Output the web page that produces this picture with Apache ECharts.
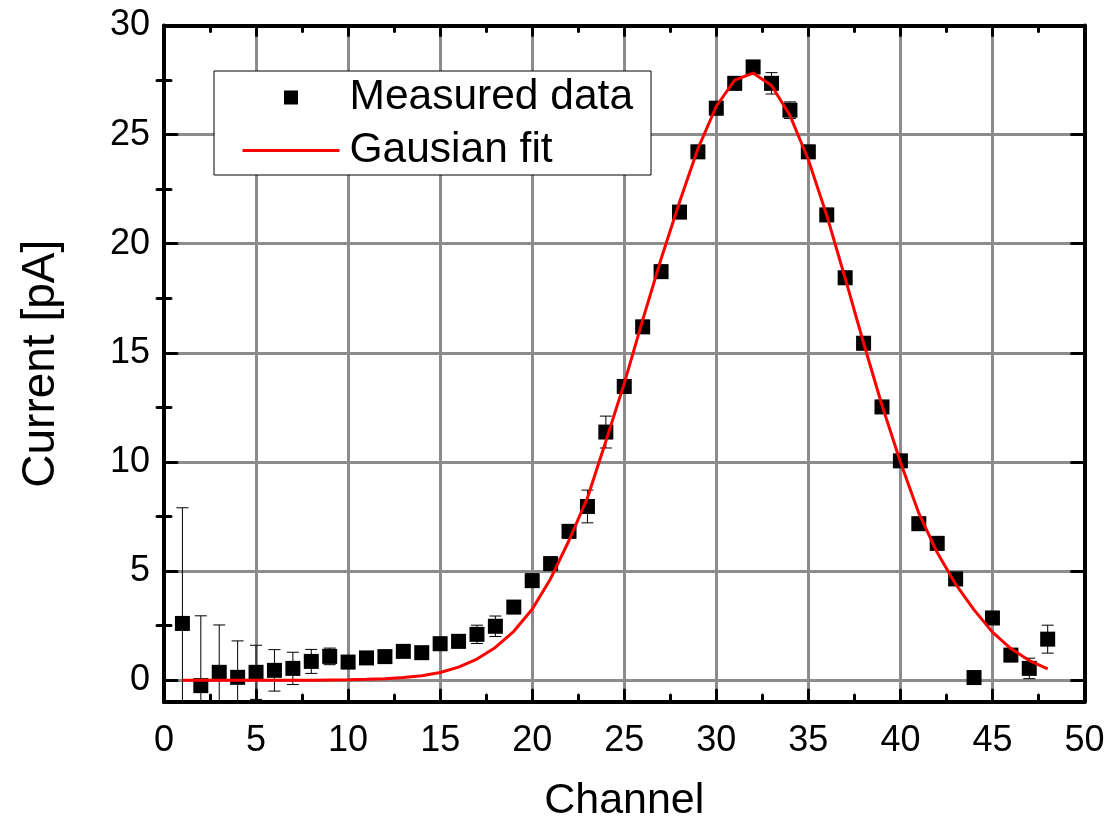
<!DOCTYPE html>
<html>
<head>
<meta charset="utf-8">
<script src="https://cdn.jsdelivr.net/npm/echarts@6/dist/echarts.min.js"></script>
<style>
  html, body { margin: 0; padding: 0; background: #fff; }
  #chart { width: 1119px; height: 822px; }
</style>
</head>
<body>
<div id="chart"></div>
<script>
// Measured beam current per channel, with its uncertainty, and the Gaussian fit.
const channels = [1, 2, 3, 4, 5, 6, 7, 8, 9, 10, 11, 12, 13, 14, 15, 16, 17, 18, 19, 20, 21, 22, 23, 24,
                  25, 26, 27, 28, 29, 30, 31, 32, 33, 34, 35, 36, 37, 38, 39, 40, 41, 42, 43, 44, 45, 46, 47, 48];
const current = [2.6, -0.25, 0.36, 0.13, 0.36, 0.45, 0.54, 0.86, 1.09, 0.83, 1.02, 1.08, 1.32, 1.26, 1.67, 1.78,
                 2.1, 2.47, 3.35, 4.56, 5.34, 6.82, 7.96, 11.37, 13.46, 16.19, 18.72, 21.45, 24.21, 26.21, 27.35, 28.1,
                 27.35, 26.12, 24.21, 21.32, 18.44, 15.44, 12.52, 10.05, 7.17, 6.27, 4.64, 0.12, 2.85, 1.15, 0.54, 1.88];
const currentErr = [5.3, 3.2, 2.17, 1.67, 1.24, 0.95, 0.74, 0.55, 0.38, 0.3, 0.25, 0.25, 0.25, 0.25, 0.3, 0.3,
                    0.42, 0.47, 0.3, 0.3, 0.3, 0.3, 0.75, 0.73, 0.3, 0.3, 0.3, 0.3, 0.3, 0.3, 0.3, 0.3,
                    0.49, 0.38, 0.3, 0.3, 0.3, 0.3, 0.3, 0.3, 0.3, 0.3, 0.3, 0.3, 0.3, 0.3, 0.47, 0.64];
const fitCurrent = [0.0, 0.0, 0.0, 0.0, 0.0, 0.0, 0.0, 0.0, 0.01, 0.02, 0.04, 0.07, 0.12, 0.2, 0.35, 0.6,
                    0.97, 1.5, 2.24, 3.25, 4.65, 6.4, 8.35, 10.95, 13.6, 16.5, 19.3, 21.9, 24.35, 26.3, 27.5, 27.82,
                    27.25, 25.88, 23.85, 21.3, 18.42, 15.45, 12.6, 10.0, 7.65, 5.85, 4.4, 3.22, 2.2, 1.45, 0.9, 0.52];

// Axis tick positions
const yMajorTicks = [0, 5, 10, 15, 20, 25, 30];
const yMinorTicks = [2.5, 7.5, 12.5, 17.5, 22.5, 27.5];

const FONT = '"Liberation Sans", Arial, Helvetica, sans-serif';
const BLACK = '#000';
const GRID_GRAY = '#8c8c8c';
const FIT_RED = '#ff0000';
const X_RANGE = { min: 0, max: 50, interval: 5 };
const Y_RANGE = { min: -1, max: 30 };

const frameLine = { show: true, onZero: false, lineStyle: { color: BLACK, width: 4 } };
const tickStyle = { color: BLACK, width: 3, cap: 'round' };

const chart = echarts.init(document.getElementById('chart'), null, { renderer: 'canvas' });

// Vertical error bar with short caps at both ends
function renderErrorBar(params, api) {
  const x = api.value(0);
  const lo = api.coord([x, api.value(1)]);
  const hi = api.coord([x, api.value(2)]);
  const half = 6;
  const style = { stroke: BLACK, lineWidth: 1, fill: null };
  return {
    type: 'group',
    children: [
      { type: 'line', shape: { x1: lo[0], y1: lo[1], x2: hi[0], y2: hi[1] }, style: style },
      { type: 'line', shape: { x1: lo[0] - half, y1: lo[1], x2: lo[0] + half, y2: lo[1] }, style: style },
      { type: 'line', shape: { x1: hi[0] - half, y1: hi[1], x2: hi[0] + half, y2: hi[1] }, style: style }
    ]
  };
}

const option = {
  backgroundColor: '#fff',
  animation: false,
  textStyle: { fontFamily: FONT },
  grid: { left: 164, right: 34.5, top: 25.5, bottom: 120, containLabel: false, outerBoundsMode: 'none' },
  legend: {
    data: [
      { name: 'Measured data', icon: 'path://M0,0L10,0L10,10L0,10Z' },
      { name: 'Gausian fit', itemStyle: { opacity: 0 }, lineStyle: { width: 3, color: FIT_RED } }
    ],
    orient: 'vertical',
    left: 214, top: 71,
    padding: [5, 18, 3, 27],
    itemWidth: 97, itemHeight: 14, itemGap: 10,
    symbolKeepAspect: true,
    backgroundColor: '#fff', borderColor: BLACK, borderWidth: 1, borderRadius: 0,
    textStyle: { fontSize: 42.5, color: BLACK, fontFamily: FONT, padding: [0, 0, 0, 5] },
    selectedMode: false,
    z: 10
  },
  xAxis: [
    {
      // bottom frame, ticks, labels and title
      type: 'value', position: 'bottom', ...X_RANGE, z: 5,
      axisLine: frameLine,
      axisTick: { show: true, inside: true, length: 12, lineStyle: tickStyle },
      minorTick: { show: true, splitNumber: 2, length: 7, lineStyle: tickStyle },
      axisLabel: { show: true, fontSize: 36, color: BLACK, margin: 21, fontFamily: FONT },
      splitLine: { show: false },
      name: 'Channel', nameLocation: 'middle', nameGap: 78,
      nameTextStyle: { fontSize: 43, color: BLACK, fontFamily: FONT }
    },
    {
      // top frame
      type: 'value', position: 'top', ...X_RANGE, z: 5,
      axisLine: frameLine,
      axisTick: { show: true, inside: true, length: 10, lineStyle: tickStyle },
      minorTick: { show: true, splitNumber: 2, length: 6, lineStyle: tickStyle },
      axisLabel: { show: false },
      splitLine: { show: false }
    },
    {
      // vertical grid lines
      type: 'value', position: 'bottom', ...X_RANGE, z: 0,
      axisLine: { show: false }, axisTick: { show: false }, axisLabel: { show: false },
      splitLine: { show: true, lineStyle: { color: GRID_GRAY, width: 3 } }
    }
  ],
  yAxis: [
    {
      // left frame, major ticks, labels and title
      type: 'value', position: 'left', ...Y_RANGE, splitNumber: 6, z: 5,
      axisLine: frameLine,
      axisTick: { show: true, inside: true, length: 13, customValues: yMajorTicks, lineStyle: tickStyle },
      axisLabel: { show: true, customValues: yMajorTicks, fontSize: 36, color: BLACK, margin: 14, fontFamily: FONT },
      splitLine: { show: false },
      name: 'Current [pA]', nameLocation: 'middle', nameGap: 100, nameRotate: 90,
      nameTextStyle: { fontSize: 46, color: BLACK, fontFamily: FONT }
    },
    {
      // left minor ticks
      type: 'value', position: 'left', ...Y_RANGE, splitNumber: 6, z: 5,
      axisLine: { show: false },
      axisTick: { show: true, inside: true, length: 7, customValues: yMinorTicks, lineStyle: tickStyle },
      axisLabel: { show: false }, splitLine: { show: false }
    },
    {
      // right frame and major ticks
      type: 'value', position: 'right', ...Y_RANGE, splitNumber: 6, z: 5,
      axisLine: frameLine,
      axisTick: { show: true, inside: true, length: 13, customValues: yMajorTicks, lineStyle: tickStyle },
      axisLabel: { show: false }, splitLine: { show: false }
    },
    {
      // right minor ticks
      type: 'value', position: 'right', ...Y_RANGE, splitNumber: 6, z: 5,
      axisLine: { show: false },
      axisTick: { show: true, inside: true, length: 7, customValues: yMinorTicks, lineStyle: tickStyle },
      axisLabel: { show: false }, splitLine: { show: false }
    },
    {
      // horizontal grid lines
      type: 'value', position: 'left', ...Y_RANGE, splitNumber: 6, z: 0,
      axisLine: { show: false },
      axisTick: { show: false, customValues: yMajorTicks },
      axisLabel: { show: false },
      splitLine: { show: true, lineStyle: { color: GRID_GRAY, width: 3 } }
    }
  ],
  series: [
    {
      name: 'error',
      type: 'custom',
      xAxisIndex: 0, yAxisIndex: 0,
      renderItem: renderErrorBar,
      encode: { x: 0, y: [1, 2] },
      data: channels.map((c, i) => [c, current[i] - currentErr[i], current[i] + currentErr[i]]),
      clip: true,
      silent: true,
      z: 2
    },
    {
      name: 'Measured data',
      type: 'scatter',
      xAxisIndex: 0, yAxisIndex: 0,
      symbol: 'rect', symbolSize: 15,
      itemStyle: { color: BLACK, opacity: 1 },
      data: channels.map((c, i) => [c, current[i]]),
      clip: true,
      silent: true,
      z: 3
    },
    {
      name: 'Gausian fit',
      type: 'line',
      xAxisIndex: 0, yAxisIndex: 0,
      showSymbol: false, symbol: 'none',
      lineStyle: { color: FIT_RED, width: 3 },
      itemStyle: { color: FIT_RED },
      data: channels.map((c, i) => [c, fitCurrent[i]]),
      silent: true,
      z: 4
    }
  ]
};

chart.setOption(option);
</script>
</body>
</html>
